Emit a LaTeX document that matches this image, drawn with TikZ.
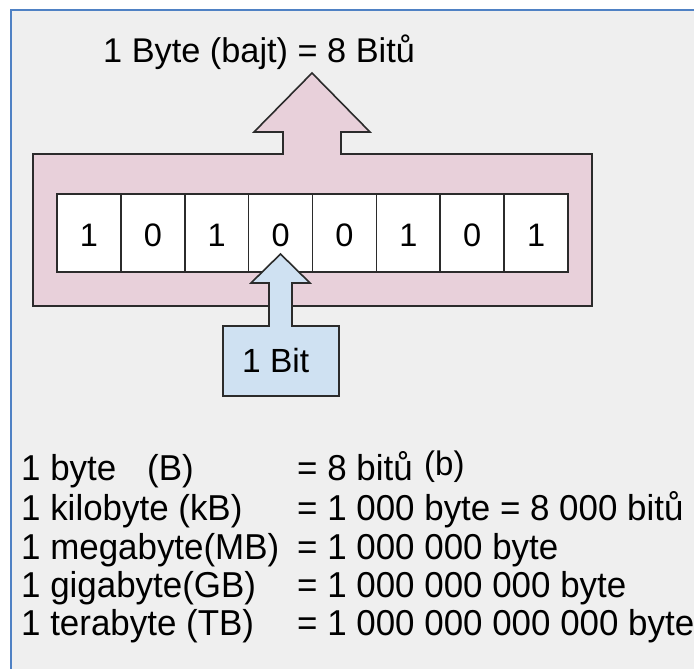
\documentclass[tikz,border=0pt]{standalone}
\usepackage{fontspec}
\setmainfont{Liberation Sans}
\newfontfamily\narrowfont[FakeStretch=0.97]{Liberation Sans}
\definecolor{bgray}{HTML}{EFEFEF}
\definecolor{frameblue}{HTML}{4F81C4}
\definecolor{bytepink}{HTML}{E8D0DA}
\definecolor{bitblue}{HTML}{CFE1F2}
\definecolor{outline}{HTML}{2B2B2B}
\tikzset{
  shapeline/.style={draw=outline, line width=1.6pt, line join=miter},
  cellbox/.style={shapeline, fill=white},
  digit/.style={font=\fontsize{32.5}{36}\selectfont, anchor=base, inner sep=0pt},
  title/.style={font=\fontsize{34.3}{38}\selectfont, anchor=base west, inner sep=0pt},
  listtext/.style={font=\narrowfont\fontsize{36}{40}\selectfont, anchor=base west, inner sep=0pt},
}
\begin{document}
\begin{tikzpicture}[x=1pt, y=-1pt]
\useasboundingbox (0,0) rectangle (694,669);
\clip (0,0) rectangle (694,669);
\fill[white] (0,0) rectangle (694,669);
\fill[bgray] (11,10) rectangle (700,680);
\draw[frameblue, line width=2.2pt] (11,680) -- (11,10) -- (700,10);

% byte arrow shape
\draw[shapeline, fill=bytepink]
  (33,154) -- (283,154) -- (283,132) -- (254,132) -- (312,73) -- (370,132)
  -- (341,132) -- (341,154) -- (592,154) -- (592,306) -- (33,306) -- cycle;

% cells
\foreach \i/\d in {0/1,1/0,2/1,3/0,4/0,5/1,6/0,7/1} {
  \pgfmathsetmacro{\xl}{57+63.875*\i}
  \pgfmathsetmacro{\xr}{57+63.875*(\i+1)}
  \pgfmathsetmacro{\xc}{57+63.875*(\i+0.5)}
  \draw[cellbox] (\xl,194) rectangle (\xr,272);
  \node[digit] (d\i) at (\xc,246) {\d};
}

% bit arrow shape
\draw[shapeline, fill=bitblue]
  (223,326) -- (269,326) -- (269,283) -- (251,283) -- (280.5,254) -- (310,283)
  -- (292,283) -- (292,326) -- (339,326) -- (339,396) -- (223,396) -- cycle;

\node[title] (ttl) at (103,63) {1 Byte (bajt) = 8 Bitů};
\node[title, font=\fontsize{33.5}{37}\selectfont] (bit) at (242,372) {1 Bit};

% list
\node[listtext] (l1a) at (21,480) {1 byte};
\node[listtext] (l1b) at (147,480) {(B)};
\node[listtext] (l1c) at (297,480) {= 8 bitů};
\node[listtext, font=\narrowfont\fontsize{34}{38}\selectfont] (l1d) at (424,475) {(b)};
\node[listtext] (l2a) at (21,520) {1 kilobyte (kB)};
\node[listtext] (l2c) at (297,520) {= 1 000 byte = 8 000 bitů};
\node[listtext] (l3a) at (21,559) {1 megabyte(MB)};
\node[listtext] (l3c) at (297,559) {= 1 000 000 byte};
\node[listtext] (l4a) at (21,597) {1 gigabyte(GB)};
\node[listtext] (l4c) at (297,597) {= 1 000 000 000 byte};
\node[listtext] (l5a) at (21,635) {1 terabyte (TB)};
\node[listtext] (l5c) at (297,635) {= 1 000 000 000 000 byte};
\end{tikzpicture}
\end{document}
